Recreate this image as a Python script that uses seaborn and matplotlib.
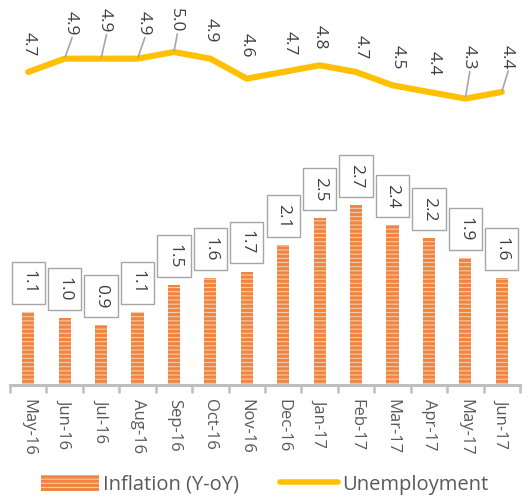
import numpy as np
import pandas as pd
import matplotlib
matplotlib.use("Agg")
import matplotlib.pyplot as plt
import seaborn as sns
from matplotlib.patches import Patch
from matplotlib.lines import Line2D

months = ["May-16", "Jun-16", "Jul-16", "Aug-16", "Sep-16", "Oct-16", "Nov-16",
          "Dec-16", "Jan-17", "Feb-17", "Mar-17", "Apr-17", "May-17", "Jun-17"]
inflation = [1.1, 1.0, 0.9, 1.1, 1.5, 1.6, 1.7, 2.1, 2.5, 2.7, 2.4, 2.2, 1.9, 1.6]
unemployment = [4.7, 4.9, 4.9, 4.9, 5.0, 4.9, 4.6, 4.7, 4.8, 4.7, 4.5, 4.4, 4.3, 4.4]

sns.set_theme(style="white")
plt.rcParams["font.family"] = ["Open Sans", "DejaVu Sans"]
plt.rcParams["hatch.linewidth"] = 2.2

df = pd.DataFrame({"month": months, "inflation": inflation, "unemployment": unemployment})

fig = plt.figure(figsize=(5.29, 4.98), dpi=100)
ax = fig.add_axes([10 / 529, 1 - 385 / 498, 510 / 529, 385 / 498])

sns.barplot(data=df, x="month", y="inflation", ax=ax, width=0.33,
            color="#f8c9a8", saturation=1, hatch="----", edgecolor="#ef8540",
            linewidth=0)
sns.pointplot(data=df, x="month", y="unemployment", ax=ax, color="#ffc000",
              markers="", linewidth=4.4)
for l in ax.lines:
    l.set_solid_capstyle("round")
    l.set_solid_joinstyle("round")

ax.set_xlim(-0.5, len(months) - 0.5)
ax.set_ylim(0, 385 / 66.6)
ax.set_xlabel("")
ax.set_ylabel("")
ax.set_yticks([])
for s in ["top", "left", "right"]:
    ax.spines[s].set_visible(False)
ax.spines["bottom"].set_color("#bfbfbf")
ax.spines["bottom"].set_linewidth(2.2)

ax.set_xticks(range(len(months)))
ax.set_xticklabels(months, rotation=-90, fontsize=12, color="#595959")
ax.tick_params(axis="x", which="major", length=0, pad=10)
ax.set_xticks(np.arange(-0.5, len(months), 1.0), minor=True)
ax.tick_params(axis="x", which="minor", length=6, width=1.8, color="#bfbfbf", bottom=True)

# bar value labels
for i, v in enumerate(inflation):
    ax.annotate(f"{v:.1f}", xy=(i, v), xytext=(0, 21), textcoords="offset points",
                rotation=-90, ha="center", va="center", fontsize=12.5, color="#404040",
                bbox=dict(boxstyle="square,pad=0.5", fc="white", ec="#a6a6a6", lw=1))

# line value labels (offsets in pixels above point, with x shift)
offs = [(0, 28), (6, 35), (4, 38), (6, 35), (2, 32), (0, 28), (0, 33),
        (6, 29), (0, 28), (5, 25), (5, 28), (5, 29), (3, 41), (5, 35)]
leader = {1, 2, 3, 4, 12, 13}
for i, v in enumerate(unemployment):
    dx, dy = offs[i]
    ax.annotate(f"{v:.1f}", xy=(i, v), xytext=(dx * 0.72, dy * 0.72), textcoords="offset points",
                rotation=-90, ha="center", va="center", fontsize=12.5, color="#404040")
    if i in leader:
        ax.annotate("", xy=(i, v), xytext=(dx * 0.72 + 1, (dy - 14) * 0.72),
                    textcoords="offset points",
                    arrowprops=dict(arrowstyle="-", color="#a6a6a6", lw=1.2,
                                    shrinkA=0, shrinkB=1))

handles = [Patch(facecolor="#f8c9a8", edgecolor="#ef8540", lw=0, hatch="----", label="Inflation (Y-oY)"),
           Line2D([0], [0], color="#ffc000", lw=4, label="Unemployment")]
leg = fig.legend(handles=handles, loc="lower center", bbox_to_anchor=(0.5, -0.03), ncol=2,
                 frameon=False, fontsize=14.5, handlelength=2.9, handleheight=0.8,
                 handletextpad=0.2, columnspacing=2.0)
for t in leg.get_texts():
    t.set_color("#595959")

fig.savefig("out.png", dpi=100)
